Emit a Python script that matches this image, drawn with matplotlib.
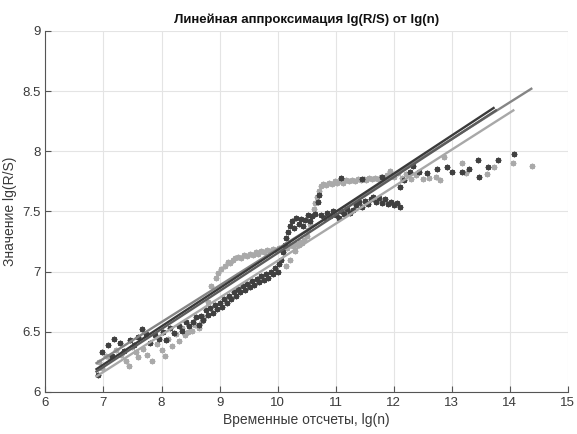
import numpy as np
import matplotlib
matplotlib.use("Agg")
import matplotlib.pyplot as plt

plt.rcParams['font.family'] = ['Liberation Sans', 'DejaVu Sans']

# dark series: lg(n), lg(R/S)
dark_x = [6.90, 6.97, 7.07, 7.15, 7.19, 7.28, 7.36, 7.45, 7.52, 7.60, 7.67, 7.73,
          7.80, 7.88, 7.95, 8.02, 8.08, 8.15, 8.22, 8.30, 8.36, 8.42, 8.48,
          8.54, 8.59, 8.64, 8.68, 8.72, 8.76, 8.80, 8.84, 8.88, 8.92, 8.96, 9.00,
          9.04, 9.08, 9.12, 9.16, 9.20, 9.24, 9.28, 9.32, 9.36, 9.40, 9.44, 9.48,
          9.52, 9.56, 9.60, 9.64, 9.68, 9.72, 9.76, 9.80, 9.84, 9.88, 9.92, 9.96,
          10.00, 10.03, 10.06, 10.09, 10.12, 10.15, 10.18, 10.21, 10.25, 10.28,
          10.32, 10.36, 10.40, 10.44, 10.48, 10.52, 10.56, 10.60, 10.65, 10.70,
          10.72, 10.75, 10.80, 10.85, 10.90, 10.95, 11.00, 11.05, 11.10, 11.15,
          11.20, 11.25, 11.30, 11.35, 11.40, 11.45, 11.50, 11.55, 11.60, 11.65,
          11.70, 11.75, 11.80, 11.85, 11.90, 11.95, 12.00, 12.05, 12.10,
          11.10, 11.45, 11.80,
          12.10, 12.17, 12.28, 12.34, 12.43, 12.57, 12.74, 12.91, 13.00, 13.18,
          13.30, 13.47, 13.45, 13.62, 13.80, 14.07]
dark_y = [6.14, 6.33, 6.39, 6.30, 6.44, 6.41, 6.34, 6.43, 6.39, 6.46, 6.52, 6.48,
          6.41, 6.47, 6.44, 6.50, 6.43, 6.53, 6.49, 6.55, 6.51, 6.58, 6.55,
          6.58, 6.62, 6.56, 6.63, 6.60, 6.68, 6.64, 6.70, 6.66, 6.72, 6.69, 6.74,
          6.71, 6.77, 6.74, 6.80, 6.77, 6.83, 6.80, 6.86, 6.83, 6.88, 6.85, 6.90,
          6.87, 6.92, 6.89, 6.94, 6.91, 6.96, 6.93, 6.98, 6.95, 7.00, 6.98, 7.03,
          7.00, 7.06, 7.10, 7.16, 7.22, 7.28, 7.33, 7.38, 7.42, 7.36,
          7.45, 7.40, 7.44, 7.38, 7.43, 7.47, 7.42, 7.46, 7.48, 7.58,
          7.64, 7.47, 7.45, 7.49, 7.46, 7.50, 7.47, 7.45, 7.50, 7.48,
          7.52, 7.49, 7.51, 7.55, 7.58, 7.54, 7.59, 7.56, 7.60, 7.62,
          7.58, 7.61, 7.57, 7.60, 7.56, 7.58, 7.55, 7.57, 7.54,
          7.78, 7.77, 7.79,
          7.70, 7.76, 7.83, 7.88, 7.83, 7.82, 7.85, 7.87, 7.83, 7.83,
          7.85, 7.79, 7.93, 7.87, 7.93, 7.98]

# light series
light_x = [6.92, 6.98, 7.05, 7.12, 7.22, 7.30, 7.38, 7.44, 7.50, 7.56, 7.60, 7.68,
           7.75, 7.84, 7.92, 8.00, 8.06, 8.12, 8.18, 8.25, 8.30, 8.35, 8.40, 8.45,
           8.52, 8.58, 8.64, 8.69, 8.74, 8.80, 8.86, 8.93, 8.98, 9.03, 9.09, 9.14,
           9.18, 9.23, 9.27, 9.32, 9.37, 9.42, 9.47, 9.52, 9.57, 9.62, 9.67, 9.72,
           9.77, 9.82, 9.87, 9.92, 9.97, 10.02, 10.07, 10.12, 10.17, 10.22, 10.27,
           10.32, 10.37, 10.42, 10.46, 10.50, 10.53, 10.56, 10.59, 10.62, 10.65,
           10.68, 10.71, 10.74, 10.78, 10.83, 10.88, 10.93, 10.98, 11.03, 11.08,
           11.13, 11.18, 11.23, 11.28, 11.33, 11.38, 11.43, 11.48, 11.53, 11.58,
           11.63, 11.68, 11.73, 11.78, 11.83, 11.88, 11.93, 12.00, 12.08, 12.15,
           12.22, 12.30, 12.38, 12.51, 12.61, 12.72, 12.79, 12.87, 13.17, 13.25,
           13.60, 13.72, 14.05, 14.39,
           10.15, 10.22, 10.30, 10.38]
light_y = [6.25, 6.20, 6.30, 6.27, 6.35, 6.31, 6.26, 6.22, 6.37, 6.33, 6.29, 6.36,
           6.31, 6.26, 6.40, 6.35, 6.30, 6.44, 6.38, 6.48, 6.42, 6.53, 6.47, 6.50,
           6.51, 6.56, 6.53, 6.59, 6.62, 6.75, 6.88, 6.95, 6.99, 7.02, 7.05, 7.08,
           7.07, 7.10, 7.11, 7.12, 7.11, 7.14, 7.13, 7.15, 7.14, 7.16, 7.15, 7.17,
           7.16, 7.18, 7.17, 7.19, 7.18, 7.20, 7.19, 7.21, 7.20, 7.22, 7.21,
           7.23, 7.22, 7.24, 7.26, 7.30, 7.35, 7.40, 7.46, 7.52, 7.57,
           7.62, 7.67, 7.71, 7.73, 7.72, 7.74, 7.73, 7.75, 7.74, 7.75,
           7.74, 7.76, 7.75, 7.76, 7.75, 7.77, 7.76, 7.77, 7.76, 7.78,
           7.77, 7.78, 7.77, 7.79, 7.78, 7.80, 7.84, 7.79, 7.82, 7.78,
           7.81, 7.77, 7.80, 7.77, 7.78, 7.79, 7.76, 7.95, 7.90, 7.82,
           7.81, 7.87, 7.90, 7.88,
           7.05, 7.10, 7.17, 7.25]

# fitted lines: start/end x and y
fit_x0 = [6.88, 6.88, 6.88, 6.88]
fit_y0 = [6.24, 6.19, 6.17, 6.13]
fit_x1 = [14.37, 13.72, 13.76, 14.06]
fit_y1 = [8.52, 8.36, 8.34, 8.34]
fit_colors = ['#858585', '#3a3a3a', '#5c5c5c', '#a8a8a8']

fig = plt.figure(figsize=(5.77, 4.34), dpi=100)
ax = fig.add_axes([0.0787, 0.0968, 0.9055, 0.8318])

ax.plot(light_x, light_y, linestyle='none', marker=(8, 2, 0), ms=4,
        mew=1.0, color='#a9a9a9', zorder=2)
ax.plot(dark_x, dark_y, linestyle='none', marker=(8, 2, 0), ms=4,
        mew=1.0, color='#404040', zorder=3)

for i in range(len(fit_x0)):
    ax.plot([fit_x0[i], fit_x1[i]], [fit_y0[i], fit_y1[i]],
            color=fit_colors[i], linewidth=1.7, zorder=4)

ax.set_xlim(6, 15)
ax.set_ylim(6, 9)
ax.set_xticks(np.arange(6, 16, 1))
ax.set_yticks([6, 6.5, 7, 7.5, 8, 8.5, 9])
ax.set_yticklabels(['6', '6.5', '7', '7.5', '8', '8.5', '9'])
ax.grid(True, color='#e4e4e4', linewidth=0.8)
ax.set_axisbelow(True)
for s in ['top', 'right']:
    ax.spines[s].set_visible(False)
for s in ['left', 'bottom']:
    ax.spines[s].set_color('#555555')
    ax.spines[s].set_linewidth(0.8)
ax.tick_params(direction='in', length=4, width=0.8, colors='#555555',
               labelcolor='#3a3a3a', labelsize=9.5)

ax.set_title('Линейная аппроксимация lg(R/S) от lg(n)', fontsize=9.5,
             fontweight='bold', color='#111111', pad=6)
ax.set_xlabel('Временные отсчеты, lg(n)', fontsize=10, color='#3a3a3a', labelpad=3)
ax.set_ylabel('Значение lg(R/S)', fontsize=10, color='#3a3a3a', labelpad=4)

fig.savefig('out.png', dpi=100)
